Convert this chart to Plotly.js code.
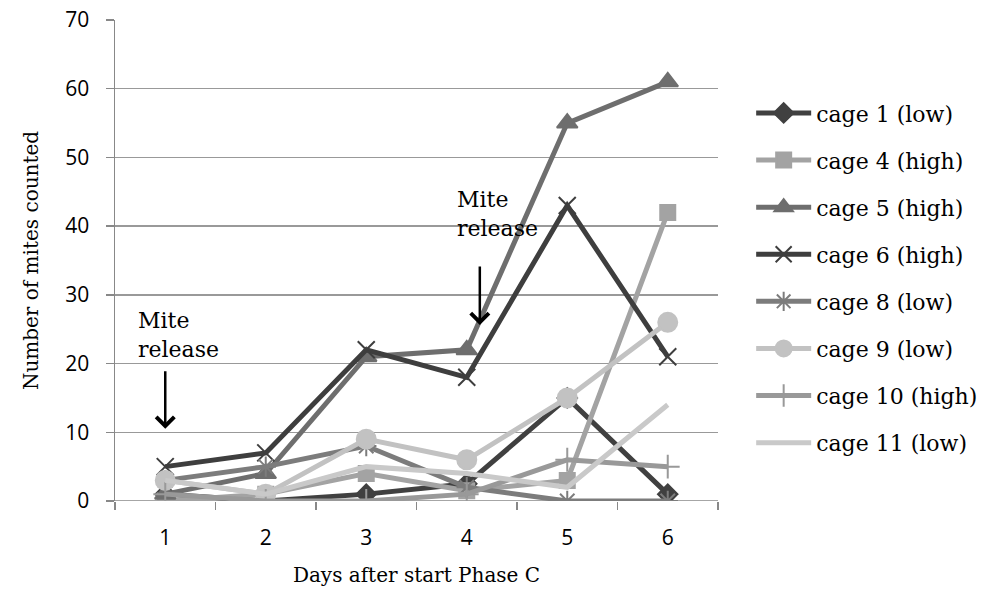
<!DOCTYPE html>
<html>
<head>
<meta charset="utf-8">
<script src="https://cdn.plot.ly/plotly-3.0.1.min.js"></script>
<style>html,body{margin:0;padding:0;background:#fff;}#chart{width:981px;height:596px;}</style>
</head>
<body>
<div id="chart"></div>
<script>
const days = [1, 2, 3, 4, 5, 6];
const dayLabels = ['1', '2', '3', '4', '5', '6'];
const seriesNames = ['cage 1 (low)', 'cage 4 (high)', 'cage 5 (high)', 'cage 6 (high)', 'cage 8 (low)', 'cage 9 (low)', 'cage 10 (high)', 'cage 11 (low)'];
const cage1 = [1, 0, 1, 2.5, 15, 1];
const cage4 = [0, 1, 4, 1.5, 3, 42];
const cage5 = [1, 4, 21, 22, 55, 61];
const cage6 = [5, 7, 22, 18, 43, 21];
const cage8 = [3, 5, 8, 2, 0, 0];
const cage9 = [3, 1, 9, 6, 15, 26];
const cage10 = [1, 0, 0, 1, 6, 5];
const cage11 = [3, 1, 5, 4, 2, 14];
const yTicks = [0, 10, 20, 30, 40, 50, 60, 70];

const values = [cage1, cage4, cage5, cage6, cage8, cage9, cage10, cage11];
const colors = ['#404040', '#a3a3a3', '#6e6e6e', '#3e3e3e', '#7c7c7c', '#c2c2c2', '#999999', '#c9c9c9'];
const symbols = ['diamond', 'square', 'triangle-up', 'x-thin-open', 'asterisk-open', 'circle', 'cross-thin-open', 'circle'];
const sizes = [15, 15, 18, 17, 17, 19, 17, 0];

const traces = values.map((v, i) => ({
  x: days, y: v, name: seriesNames[i], type: 'scatter', legendgroup: 'g' + i,
  mode: i === 7 ? 'lines' : 'lines+markers',
  line: {color: colors[i], width: 5},
  marker: {symbol: symbols[i], size: sizes[i], color: colors[i], line: {color: colors[i], width: 2}}
}));

const serif = 'DejaVu Serif, Liberation Serif, serif';
const sans = 'Open Sans, Liberation Sans, sans-serif';
const layout = {
  width: 981, height: 596,
  margin: {l: 115, r: 263, t: 20, b: 95, autoexpand: false},
  paper_bgcolor: '#fff', plot_bgcolor: '#fff',
  showlegend: true,
  legend: {x: 1.055, y: 0.85, xanchor: 'left', yanchor: 'top', font: {family: serif, size: 22, color: '#000'},
           traceorder: 'grouped', tracegroupgap: 15.5, itemwidth: 55, bgcolor: 'rgba(0,0,0,0)'},
  xaxis: {range: [0.5, 6.5], tickvals: days, ticktext: dayLabels, ticks: '', showgrid: false,
          zeroline: false, showline: false, ticklabelstandoff: 22,
          tickfont: {family: sans, size: 21, color: '#000'},
          minor: {tickmode: 'linear', tick0: 0.5, dtick: 1, ticks: 'outside', ticklen: 8, tickcolor: '#888', tickwidth: 1.5, showgrid: false},
          title: {text: 'Days after start Phase C', font: {family: serif, size: 20, color: '#000'}, standoff: 17}},
  yaxis: {range: [0, 70], tickvals: yTicks, ticks: 'outside', ticklen: 8, tickcolor: '#888', tickwidth: 1.5,
          showgrid: true, gridcolor: '#999', gridwidth: 1.5, zeroline: false, ticklabelstandoff: 12,
          showline: true, linecolor: '#888', linewidth: 1.5,
          tickfont: {family: sans, size: 21, color: '#000'},
          title: {text: 'Number of mites counted', font: {family: serif, size: 20, color: '#000'}, standoff: 21}},
  shapes: [{type: 'line', xref: 'paper', yref: 'y', x0: 0, x1: 1, y0: 0, y1: 0, line: {color: '#888', width: 1.5}, layer: 'below'}],
  annotations: [
    {x: 0.71, y: 24.2, xref: 'x', yref: 'y', text: 'Mite<br>release', showarrow: false, xanchor: 'left', yanchor: 'middle', align: 'left',
     font: {family: serif, size: 22, color: '#000'}},
    {x: 1, y: 10.5, xref: 'x', yref: 'y', text: '', showarrow: true, arrowhead: 4, arrowsize: 1.4, arrowwidth: 2.5, arrowcolor: '#000', ax: 0, ay: -59},
    {x: 3.88, y: 41.8, xref: 'x', yref: 'y', text: 'Mite<br>release', showarrow: false, xanchor: 'left', yanchor: 'middle', align: 'left',
     font: {family: serif, size: 22, color: '#000'}},
    {x: 4.13, y: 25.6, xref: 'x', yref: 'y', text: '', showarrow: true, arrowhead: 4, arrowsize: 1.4, arrowwidth: 2.5, arrowcolor: '#000', ax: 0, ay: -60}
  ]
};
Plotly.newPlot('chart', traces, layout, {displayModeBar: false, staticPlot: true});
</script>
</body>
</html>
